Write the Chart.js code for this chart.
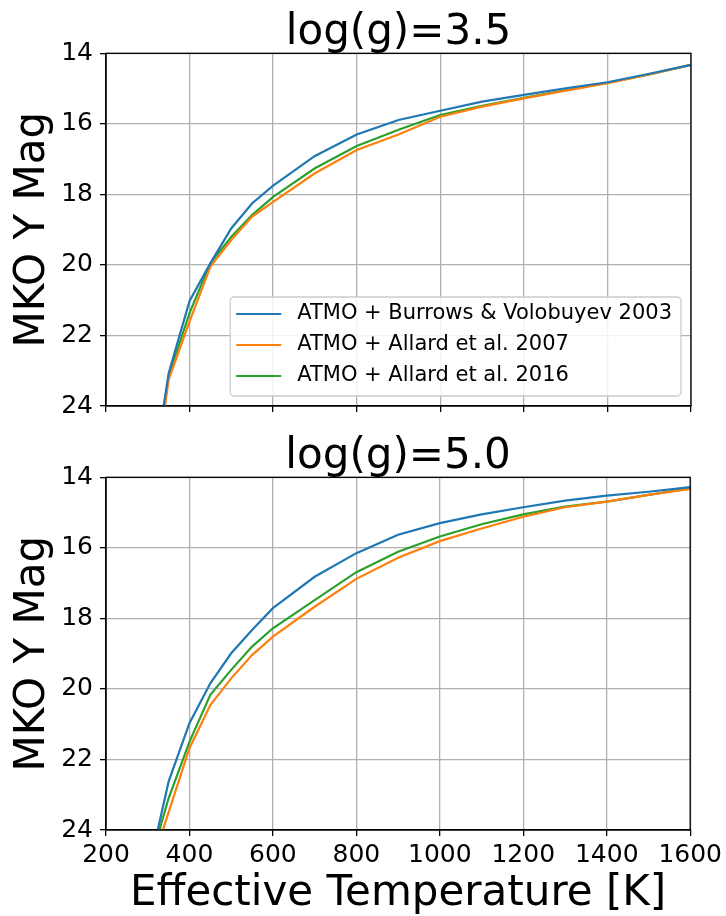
<!DOCTYPE html>
<html>
<head>
<meta charset="utf-8">
<script src="https://cdn.jsdelivr.net/npm/chart.js@4.4.1/dist/chart.umd.min.js"></script>
<style>
  body { margin: 0; background: #fff; }
  canvas { position: absolute; left: 0; }
  #topChart { top: 0; z-index: 1; }
  #bottomChart { top: 424px; z-index: 2; }
</style>
</head>
<body>
<canvas id="topChart" width="726" height="440"></canvas>
<canvas id="bottomChart" width="726" height="492"></canvas>
<script>
// Teff grid (K)
const temps = [300, 350, 400, 450, 500, 550, 600, 700, 800, 900, 1000, 1100, 1200, 1300, 1400, 1500, 1600];
const seriesNames = ['ATMO + Burrows & Volobuyev 2003', 'ATMO + Allard et al. 2007', 'ATMO + Allard et al. 2016'];
const seriesColors = ['#1f77b4', '#ff7f0e', '#2ca02c'];
const panelTitles = ['log(g)=3.5', 'log(g)=5.0'];
const xTicks = [200, 400, 600, 800, 1000, 1200, 1400, 1600];
const yTicks = [14, 16, 18, 20, 22, 24];

// log(g)=3.5, MKO Y mag
const bv03_g35 = [26.9, 23.07, 21.02, 19.95, 18.96, 18.25, 17.75, 16.91, 16.30, 15.89, 15.63, 15.37, 15.18, 14.99, 14.82, 14.58, 14.33];
const a07_g35  = [27.5, 23.25, 21.60, 20.05, 19.29, 18.63, 18.21, 17.40, 16.74, 16.30, 15.80, 15.51, 15.28, 15.06, 14.85, 14.60, 14.33];
const a16_g35  = [27.2, 23.15, 21.36, 19.95, 19.20, 18.58, 18.07, 17.26, 16.63, 16.17, 15.75, 15.49, 15.26, 15.04, 14.84, 14.60, 14.33];

// log(g)=5.0, MKO Y mag
const bv03_g50 = [25.26, 22.63, 20.97, 19.84, 18.99, 18.33, 17.71, 16.82, 16.15, 15.63, 15.30, 15.05, 14.85, 14.66, 14.52, 14.41, 14.28];
const a07_g50  = [25.30, 23.50, 21.68, 20.46, 19.70, 19.04, 18.52, 17.67, 16.88, 16.28, 15.81, 15.45, 15.12, 14.85, 14.69, 14.50, 14.33];
const a16_g50  = [25.15, 23.10, 21.50, 20.17, 19.46, 18.80, 18.28, 17.48, 16.69, 16.11, 15.68, 15.33, 15.05, 14.83, 14.69, 14.50, 14.31];

const FONT = 'DejaVu Sans';

function pts(arr) {
  return temps.map((t, i) => ({ x: t, y: arr[i] }));
}

function makeDatasets(list) {
  return list.map((arr, i) => ({
    label: seriesNames[i],
    data: pts(arr),
    borderColor: seriesColors[i],
    backgroundColor: seriesColors[i],
    borderWidth: 2.2,
    pointRadius: 0,
    tension: 0,
    clip: 0
  }));
}

// black box around the axes + panel title centred over the plot
const framePlugin = {
  id: 'frame',
  afterDatasetsDraw(chart, args, opts) {
    const a = chart.chartArea;
    const ctx = chart.ctx;
    ctx.save();
    ctx.strokeStyle = '#000';
    ctx.lineWidth = 1.3;
    ctx.strokeRect(a.left, a.top, a.right - a.left, a.bottom - a.top);
    ctx.fillStyle = '#000';
    ctx.font = '42px "' + FONT + '"';
    ctx.textAlign = 'center';
    ctx.textBaseline = 'alphabetic';
    ctx.fillText(opts.text, (a.left + a.right) / 2, a.top - 9);
    ctx.restore();
  }
};

// legend drawn inside the plot, lower right
const boxLegend = {
  id: 'boxLegend',
  afterDraw(chart, args, opts) {
    if (!opts.show) return;
    const ctx = chart.ctx;
    const a = chart.chartArea;
    ctx.save();
    ctx.font = '21px "' + FONT + '"';
    const names = chart.data.datasets.map(d => d.label);
    let tw = 0;
    names.forEach(n => { tw = Math.max(tw, ctx.measureText(n).width); });
    const w = 6 + 45 + 16 + tw + 9;
    const h = 99;
    const x0 = a.right - 10 - w;
    const y0 = a.bottom - 10 - h;
    ctx.beginPath();
    ctx.roundRect(x0, y0, w, h, 4);
    ctx.fillStyle = 'rgba(255,255,255,0.85)';
    ctx.fill();
    ctx.strokeStyle = '#cccccc';
    ctx.lineWidth = 1.3;
    ctx.stroke();
    chart.data.datasets.forEach((d, i) => {
      const y = y0 + 17 + i * 31;
      ctx.beginPath();
      ctx.moveTo(x0 + 6, y);
      ctx.lineTo(x0 + 51, y);
      ctx.strokeStyle = d.borderColor;
      ctx.lineWidth = 2.2;
      ctx.stroke();
      ctx.fillStyle = '#000';
      ctx.textBaseline = 'middle';
      ctx.textAlign = 'left';
      ctx.fillText(d.label, x0 + 67, y);
    });
    ctx.restore();
  }
};

function makeChart(id, title, datasets, showXLabels, showLegend, xHeight) {
  return new Chart(document.getElementById(id), {
    type: 'line',
    data: { datasets: datasets },
    plugins: [framePlugin, boxLegend],
    options: {
      responsive: false,
      animation: false,
      layout: { padding: { left: 0, right: 35, top: 53.3, bottom: 0 } },
      plugins: {
        legend: { display: false },
        tooltip: { enabled: false },
        title: { display: false },
        frame: { text: title },
        boxLegend: { show: showLegend }
      },
      scales: {
        x: {
          type: 'linear',
          min: 200,
          max: 1600,
          afterBuildTicks: s => { s.ticks = xTicks.map(v => ({ value: v })); },
          afterFit: s => { s.height = xHeight; },
          ticks: {
            display: showXLabels,
            color: '#000',
            padding: 4,
            font: { family: FONT, size: 25 },
            callback: v => String(v)
          },
          grid: { color: '#b0b0b0', lineWidth: 1.3, tickLength: 6, tickColor: '#000', tickWidth: 1.3 },
          border: { display: true, color: '#000', width: 1.3 },
          title: {
            display: showXLabels,
            text: 'Effective Temperature [K]',
            color: '#000',
            font: { family: FONT, size: 42, lineHeight: 1.1 },
            padding: { top: 0, bottom: -1 }
          }
        },
        y: {
          type: 'linear',
          reverse: true,
          min: 14,
          max: 24,
          afterBuildTicks: s => { s.ticks = yTicks.map(v => ({ value: v })); },
          afterFit: s => { s.width = 106; },
          ticks: {
            color: '#000',
            padding: 7,
            font: { family: FONT, size: 25 }
          },
          grid: { color: '#b0b0b0', lineWidth: 1.3, tickLength: 6, tickColor: '#000', tickWidth: 1.3 },
          border: { display: true, color: '#000', width: 1.3 },
          title: {
            display: true,
            text: 'MKO Y Mag',
            color: '#000',
            font: { family: FONT, size: 42, lineHeight: 1.2 },
            padding: { top: 8, bottom: 0 }
          }
        }
      }
    }
  });
}

makeChart('topChart', panelTitles[0], makeDatasets([bv03_g35, a07_g35, a16_g35]), false, true, 34);
makeChart('bottomChart', panelTitles[1], makeDatasets([bv03_g50, a07_g50, a16_g50]), true, false, 86);
</script>
</body>
</html>
